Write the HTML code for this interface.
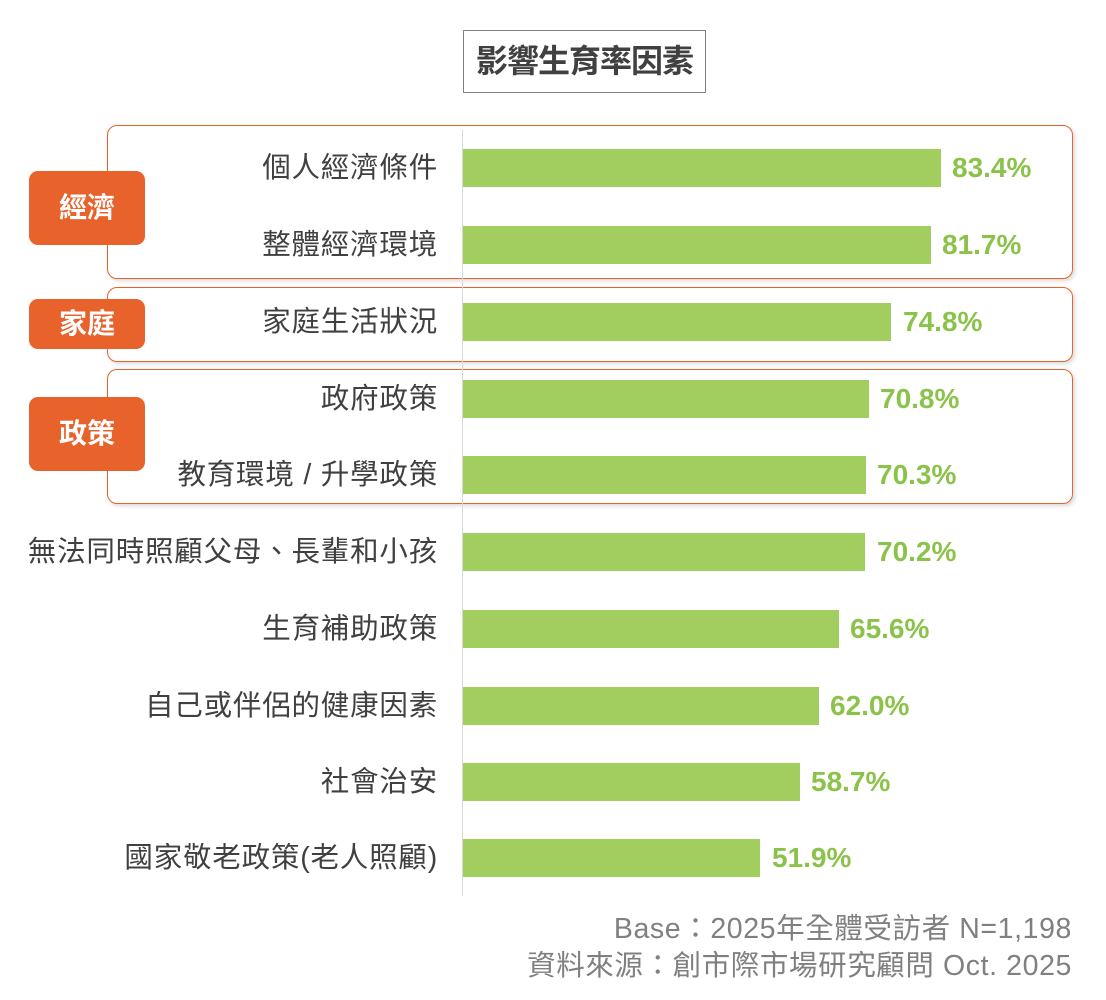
<!DOCTYPE html>
<html><head><meta charset="utf-8"><style>
body{margin:0;width:1106px;height:1000px;background:#fff;position:relative;font-family:"Liberation Sans","Noto Sans CJK TC",sans-serif;overflow:hidden}
.a{position:absolute}
.title{left:463px;top:30px;width:241px;height:61px;border:1px solid #808080;font-size:32px;font-weight:bold;color:#404040;text-align:center;line-height:61px;letter-spacing:-1px}
.box{border:1.5px solid #e8622c;border-radius:10px;box-shadow:2px 2px 4px rgba(0,0,0,0.15);left:107px;width:964px}
.tag{background:#e8622c;color:#fff;font-weight:bold;font-size:28px;border-radius:9px;left:29px;width:116px;text-align:center}
.lbl{right:668px;font-size:28.5px;color:#404040;white-space:nowrap;height:38px;line-height:38px;letter-spacing:0.8px}
.bar{left:463px;height:38px;background:#a2cd5f}
.val{font-size:28px;font-weight:bold;height:38px;line-height:38px;color:#8bc34a}
.axis{left:462px;top:130px;width:1px;height:766px;background:#d9d9d9}
.foot{right:34px;font-size:28.5px;color:#808080;text-align:right;white-space:nowrap;letter-spacing:0.6px}
</style></head><body>
<div class="a title">影響生育率因素</div>
<div class="a box" style="top:125px;height:152px"></div>
<div class="a box" style="top:287px;height:73px"></div>
<div class="a box" style="top:369px;height:133px"></div>
<div class="a axis"></div>
<div class="a tag" style="top:171px;height:74px;line-height:74px">經濟</div>
<div class="a tag" style="top:299px;height:50px;line-height:50px">家庭</div>
<div class="a tag" style="top:397px;height:74px;line-height:74px">政策</div>

<div class="a lbl" style="top:149px">個人經濟條件</div><div class="a bar" style="top:149px;width:478px"></div><div class="a val" style="top:149px;left:952px">83.4%</div>
<div class="a lbl" style="top:226px">整體經濟環境</div><div class="a bar" style="top:226px;width:468px"></div><div class="a val" style="top:226px;left:942px">81.7%</div>
<div class="a lbl" style="top:303px">家庭生活狀況</div><div class="a bar" style="top:303px;width:428px"></div><div class="a val" style="top:303px;left:903px">74.8%</div>
<div class="a lbl" style="top:380px">政府政策</div><div class="a bar" style="top:380px;width:406px"></div><div class="a val" style="top:380px;left:880px">70.8%</div>
<div class="a lbl" style="top:456px">教育環境 / 升學政策</div><div class="a bar" style="top:456px;width:403px"></div><div class="a val" style="top:456px;left:877px">70.3%</div>
<div class="a lbl" style="top:533px">無法同時照顧父母、長輩和小孩</div><div class="a bar" style="top:533px;width:402px"></div><div class="a val" style="top:533px;left:877px">70.2%</div>
<div class="a lbl" style="top:610px">生育補助政策</div><div class="a bar" style="top:610px;width:376px"></div><div class="a val" style="top:610px;left:850px">65.6%</div>
<div class="a lbl" style="top:687px">自己或伴侶的健康因素</div><div class="a bar" style="top:687px;width:356px"></div><div class="a val" style="top:687px;left:830px">62.0%</div>
<div class="a lbl" style="top:763px">社會治安</div><div class="a bar" style="top:763px;width:337px"></div><div class="a val" style="top:763px;left:811px">58.7%</div>
<div class="a lbl" style="top:839px">國家敬老政策(老人照顧)</div><div class="a bar" style="top:839px;width:297px"></div><div class="a val" style="top:839px;left:772px">51.9%</div>

<div class="a foot" style="top:906px">Base：2025年全體受訪者 N=1,198</div>
<div class="a foot" style="top:943px">資料來源：創市際市場研究顧問 Oct. 2025</div>
</body></html>
